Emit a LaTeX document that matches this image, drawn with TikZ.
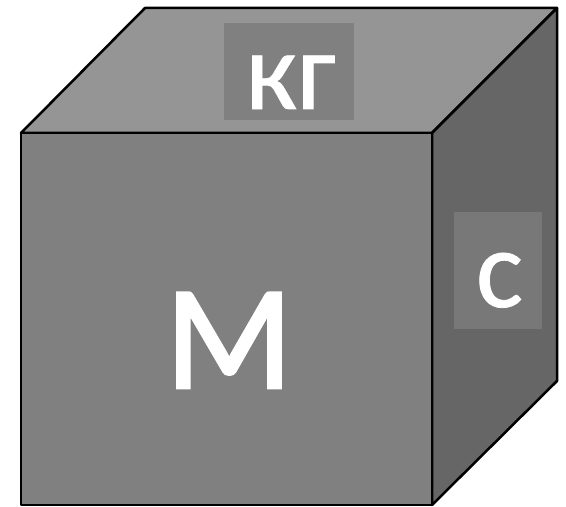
\documentclass[tikz,border=0pt]{standalone}
\usepackage{fontspec}
\setmainfont{Carlito}
\newfontfamily\unitfont[FakeBold=0.7]{Carlito}
\newfontfamily\massfont[FakeBold=2]{Carlito}

\definecolor{topgray}{gray}{0.585}
\definecolor{frontgray}{gray}{0.5}
\definecolor{sidegray}{gray}{0.4}
\definecolor{kgboxgray}{gray}{0.5}
\definecolor{sboxgray}{gray}{0.47}

\begin{document}
\begin{tikzpicture}[x=1bp, y=-1bp,
  face/.style={draw=black, line width=2.5bp, line join=round},
  unit/.style={text=white, inner sep=0pt, anchor=base, font=\unitfont\fontsize{112}{112}\selectfont},
  mass/.style={text=white, inner sep=0pt, anchor=base, font=\massfont\fontsize{149}{149}\selectfont}]
  \useasboundingbox (0, 0) rectangle (566, 507);
  % cube corners
  \coordinate (a) at (21, 133);
  \coordinate (b) at (432, 133);
  \coordinate (c) at (432, 505);
  \coordinate (d) at (21, 505);
  \coordinate (e) at (145, 8);
  \coordinate (f) at (557, 8);
  \coordinate (g) at (557, 381);
  % faces
  \draw[face, fill=topgray] (a) -- (e) -- (f) -- (b) -- cycle;
  \draw[face, fill=sidegray] (b) -- (f) -- (g) -- (c) -- cycle;
  \draw[face, fill=frontgray] (a) -- (b) -- (c) -- (d) -- cycle;
  % labels
  \fill[kgboxgray] (224, 23) rectangle (354, 120);
  \fill[sboxgray] (454, 212) rectangle (542, 329);
  \node[unit] (kg) at (290.5, 109) {кг};
  \node[unit] (s) at (499.5, 307) {с};
  \node[mass] (m) at (229, 388) {М};
\end{tikzpicture}
\end{document}
